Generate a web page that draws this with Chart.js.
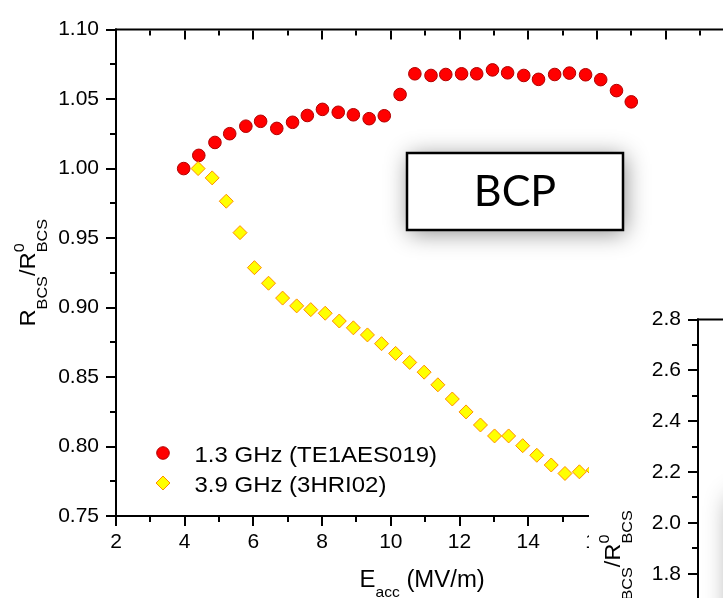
<!DOCTYPE html>
<html>
<head>
<meta charset="utf-8">
<script src="https://cdn.jsdelivr.net/npm/chart.js@4.4.0/dist/chart.umd.min.js"></script>
<style>
  html, body { margin: 0; padding: 0; background: #fff; }
  body { width: 723px; height: 598px; overflow: hidden; position: relative; }
  #main { position: absolute; left: 0; top: 0; }
  #inset { position: absolute; left: 589px; top: 290px; width: 400px; height: 548px; background: #fff; }
</style>
</head>
<body>
<canvas id="main" width="760" height="598"></canvas>
<div id="inset"><canvas id="side" width="400" height="548"></canvas></div>
<script>
// E_acc (MV/m) vs R_BCS / R0_BCS
const eacc13 = [3.97, 4.41, 4.88, 5.31, 5.78, 6.21, 6.68, 7.14, 7.57, 8.01, 8.47, 8.91, 9.37, 9.81, 10.27,
  10.70, 11.17, 11.60, 12.06, 12.50, 12.96, 13.40, 13.87, 14.30, 14.77, 15.20, 15.67, 16.11, 16.57, 17.00];
const ratio13 = [1.000, 1.0095, 1.0188, 1.0251, 1.0305, 1.0340, 1.0289, 1.0333, 1.0382, 1.0426, 1.0405, 1.0387, 1.0359, 1.0380, 1.0533,
  1.0682, 1.0670, 1.0677, 1.0682, 1.0682, 1.0710, 1.0689, 1.0670, 1.0642, 1.0677, 1.0687, 1.0675, 1.0640, 1.0561, 1.0480];

const eacc39 = [4.39, 4.80, 5.21, 5.61, 6.03, 6.44, 6.85, 7.26, 7.67, 8.09, 8.50, 8.91, 9.32, 9.73, 10.14,
  10.55, 10.97, 11.37, 11.79, 12.19, 12.61, 13.02, 13.43, 13.84, 14.25, 14.67, 15.07, 15.49, 15.89];
const ratio39 = [1.000, 0.9933, 0.9765, 0.9539, 0.9287, 0.9175, 0.9068, 0.9012, 0.8985, 0.8959, 0.8903, 0.8854, 0.8803, 0.8740, 0.8670,
  0.8605, 0.8535, 0.8444, 0.8342, 0.8249, 0.8155, 0.8076, 0.8076, 0.8006, 0.7937, 0.7867, 0.7806, 0.7818, 0.7830];

const xTicks = [2, 4, 6, 8, 10, 12, 14, 16, 18, 20];
const yTicks = [0.75, 0.80, 0.85, 0.90, 0.95, 1.00, 1.05, 1.10];
const sideTicks = [1.0, 1.2, 1.4, 1.6, 1.8, 2.0, 2.2, 2.4, 2.6, 2.8];

const legendLabels = ['1.3 GHz (TE1AES019)', '3.9 GHz (3HRI02)'];
const boxLabel = 'BCP';

const FONT = "'Liberation Sans', Arial, Helvetica, sans-serif";
Chart.defaults.font.family = FONT;
Chart.defaults.color = '#000';

const toPoints = (xs, ys) => xs.map((x, i) => ({ x, y: ys[i] }));

function minorBetween(vals) {
  const out = [];
  for (let i = 0; i < vals.length - 1; i++) out.push((vals[i] + vals[i + 1]) / 2);
  return out;
}

// R_BCS/R0_BCS and E_acc need sub/superscripts, so draw them by hand
const yTitleParts = [
  { t: 'R', size: 22 }, { t: 'BCS', size: 15, dy: 12 }, { t: '/', size: 22 },
  { t: 'R', size: 22 }, { t: '0', size: 15, dy: -11, keep: true }, { t: 'BCS', size: 15, dy: 12 },
];
const xTitleParts = [{ t: 'E', size: 23 }, { t: 'acc', size: 15, dy: 10 }, { t: ' (MV/m)', size: 23 }];

function richText(ctx, parts, x, y, rotate, stretch) {
  ctx.save();
  ctx.translate(x, y);
  if (rotate) ctx.rotate(-Math.PI / 2);
  ctx.scale(stretch, 1);
  ctx.fillStyle = '#000';
  ctx.textAlign = 'left';
  ctx.textBaseline = 'alphabetic';
  const widths = parts.map(p => { ctx.font = p.size + 'px ' + FONT; return ctx.measureText(p.t).width; });
  const total = parts.reduce((s, p, i) => s + (p.keep ? 0 : widths[i]), 0);
  let cx = -total / 2;
  parts.forEach((p, i) => {
    ctx.font = p.size + 'px ' + FONT;
    ctx.fillText(p.t, cx, p.dy || 0);
    if (!p.keep) cx += widths[i];
  });
  ctx.restore();
}

function drawFrame(chart, cfg) {
  const { ctx, chartArea: a } = chart;
  const xs = chart.scales.x, ys = chart.scales.y;
  const MAJOR = 10, MINOR = 6;
  const line = (x1, y1, x2, y2) => { ctx.beginPath(); ctx.moveTo(x1, y1); ctx.lineTo(x2, y2); ctx.stroke(); };
  ctx.save();
  ctx.strokeStyle = '#000';
  ctx.lineWidth = 2;
  ctx.lineCap = 'square';
  line(a.left, a.top, a.left, a.bottom);
  line(a.left, a.top, a.right, a.top);
  if (cfg.bottom) line(a.left, a.bottom, a.right, a.bottom);

  ctx.lineCap = 'butt';
  const yMaj = ys.ticks.map(t => t.value);
  yMaj.forEach(v => { const p = Math.round(ys.getPixelForValue(v)); line(a.left + 1, p, a.left - MAJOR, p); });
  minorBetween(yMaj).forEach(v => { const p = Math.round(ys.getPixelForValue(v)); line(a.left + 1, p, a.left - MINOR, p); });

  if (cfg.bottom) {
    const xMaj = xs.ticks.map(t => t.value);
    xMaj.forEach(v => {
      const p = Math.round(xs.getPixelForValue(v));
      line(p, a.bottom - 1, p, a.bottom + MAJOR);
      line(p, a.top + 1, p, a.top + MAJOR);
    });
    minorBetween(xMaj).forEach(v => {
      const p = Math.round(xs.getPixelForValue(v));
      line(p, a.bottom - 1, p, a.bottom + MINOR);
      line(p, a.top + 1, p, a.top + MINOR);
    });
  }
  ctx.restore();
}

function shadowBox(ctx, x, y, w, h, blur) {
  ctx.save();
  ctx.shadowColor = 'rgba(0,0,0,0.45)';
  ctx.shadowBlur = blur;
  ctx.shadowOffsetX = 2;
  ctx.shadowOffsetY = 3;
  ctx.fillStyle = '#fff';
  ctx.fillRect(x, y, w, h);
  ctx.restore();
  ctx.save();
  ctx.strokeStyle = '#000';
  ctx.lineWidth = 2.5;
  ctx.strokeRect(x, y, w, h);
  ctx.restore();
}

const mainDecor = {
  id: 'mainDecor',
  beforeDatasetsDraw(chart) {
    const { ctx } = chart;
    shadowBox(ctx, 407, 153, 216, 77, 22);
    ctx.save();
    ctx.fillStyle = '#000';
    ctx.font = '43px Lato, ' + FONT;
    ctx.textAlign = 'center';
    ctx.textBaseline = 'alphabetic';
    ctx.fillText(boxLabel, 515, 206);
    ctx.restore();
    drawFrame(chart, { bottom: true });
  },
  afterDraw(chart) {
    const { ctx, chartArea: a } = chart;
    richText(ctx, yTitleParts, 35, (a.top + a.bottom) / 2, true, 1.08);
    richText(ctx, xTitleParts, (a.left + a.right) / 2 - 3, 587, false, 1.04);

    // legend
    ctx.save();
    ctx.lineWidth = 1;
    ctx.beginPath();
    ctx.arc(163, 453, 6.3, 0, Math.PI * 2);
    ctx.fillStyle = '#ff0000';
    ctx.strokeStyle = '#b00000';
    ctx.fill(); ctx.stroke();
    ctx.beginPath();
    ctx.moveTo(163, 476); ctx.lineTo(170, 483); ctx.lineTo(163, 490); ctx.lineTo(156, 483); ctx.closePath();
    ctx.fillStyle = '#ffff00';
    ctx.strokeStyle = '#ff8c00';
    ctx.fill(); ctx.stroke();
    ctx.fillStyle = '#000';
    ctx.font = '22px ' + FONT;
    [[legendLabels[0], 462], [legendLabels[1], 491.5]].forEach(([txt, by]) => {
      ctx.save();
      ctx.translate(194.5, by);
      ctx.scale(1.09, 1);
      ctx.fillText(txt, 0, 0);
      ctx.restore();
    });
    ctx.restore();
  },
};

new Chart(document.getElementById('main'), {
  type: 'scatter',
  data: {
    datasets: [
      {
        label: legendLabels[0],
        data: toPoints(eacc13, ratio13),
        pointStyle: 'circle',
        pointRadius: 6.3,
        pointBackgroundColor: '#ff0000',
        pointBorderColor: '#b00000',
        pointBorderWidth: 1,
        order: 2,
      },
      {
        label: legendLabels[1],
        data: toPoints(eacc39, ratio39),
        pointStyle: 'rectRot',
        pointRadius: 7,
        pointBackgroundColor: '#ffff00',
        pointBorderColor: '#ff8c00',
        pointBorderWidth: 1,
        order: 1,
      },
    ],
  },
  options: {
    responsive: false,
    animation: false,
    events: [],
    layout: { padding: { top: 15, right: 23, left: 0, bottom: 0 } },
    plugins: { legend: { display: false }, tooltip: { enabled: false } },
    scales: {
      x: {
        type: 'linear', min: 2, max: 20,
        afterBuildTicks: s => { s.ticks = xTicks.map(v => ({ value: v })); },
        afterFit: s => { s.height = 82; },
        grid: { display: false, drawTicks: false },
        border: { display: false },
        ticks: { font: { size: 21 }, padding: 14, color: '#000', maxRotation: 0 },
      },
      y: {
        type: 'linear', min: 0.75, max: 1.10,
        afterBuildTicks: s => { s.ticks = yTicks.map(v => ({ value: v })); },
        afterFit: s => { s.width = 116; },
        grid: { display: false, drawTicks: false },
        border: { display: false },
        ticks: { font: { size: 21 }, padding: 17, color: '#000', callback: v => v.toFixed(2) },
      },
    },
  },
  plugins: [mainDecor],
});

// second panel, only its upper-left corner is in the picture
const sideDecor = {
  id: 'sideDecor',
  beforeDatasetsDraw(chart) {
    shadowBox(chart.ctx, 140, 205, 200, 160, 24);
    drawFrame(chart, { bottom: false });
  },
  afterDraw(chart) {
    richText(chart.ctx, yTitleParts, 31, 274, true, 1.08);
  },
};

new Chart(document.getElementById('side'), {
  type: 'scatter',
  data: { datasets: [] },
  options: {
    responsive: false,
    animation: false,
    events: [],
    layout: { padding: { top: 28, right: 10, left: 0, bottom: 61 } },
    plugins: { legend: { display: false }, tooltip: { enabled: false } },
    scales: {
      x: { type: 'linear', min: 2, max: 20, display: false },
      y: {
        type: 'linear', min: 1.0, max: 2.8,
        afterBuildTicks: s => { s.ticks = sideTicks.map(v => ({ value: v })); },
        afterFit: s => { s.width = 109; },
        grid: { display: false, drawTicks: false },
        border: { display: false },
        ticks: { font: { size: 21 }, padding: 17, color: '#000', callback: v => v.toFixed(1) },
      },
    },
  },
  plugins: [sideDecor],
});
</script>
</body>
</html>
